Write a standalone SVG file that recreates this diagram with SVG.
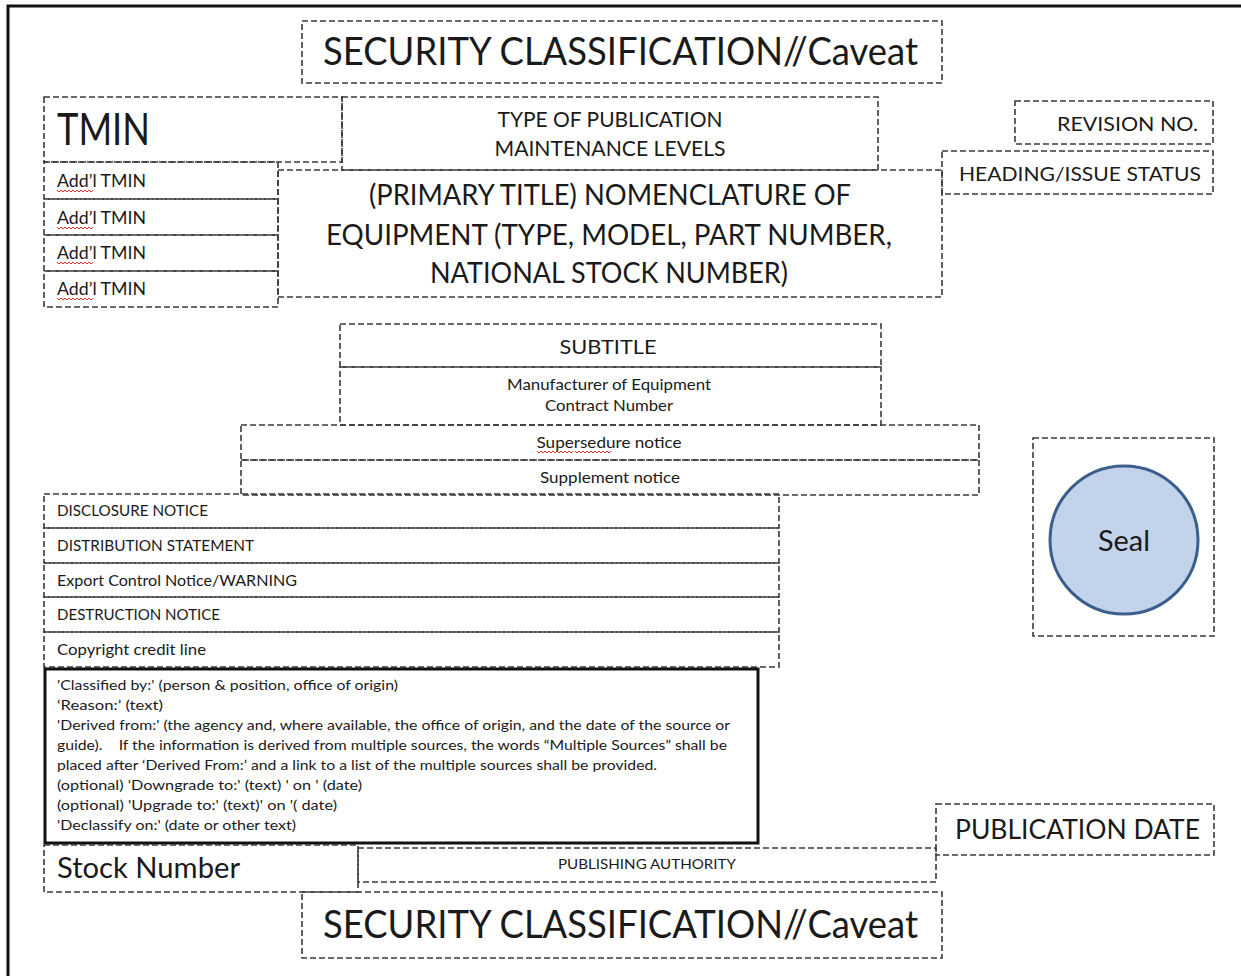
<svg xmlns="http://www.w3.org/2000/svg" width="1241" height="976" viewBox="0 0 1241 976">
<style>
.b{fill:none;stroke:#3a3a3a;stroke-width:1.6;stroke-dasharray:6,3}
.t{font-family:Lato,"Open Sans","Liberation Sans",sans-serif;fill:#1a1a1a}
.c{text-anchor:middle}
.sq{fill:none;stroke:#e03030;stroke-width:1}
</style>
<defs>
<path id="sqA" class="sq" d="M0,0 l2,2 l2,-2 l2,2 l2,-2 l2,2 l2,-2 l2,2 l2,-2 l2,2 l2,-2 l2,2 l2,-2 l2,2 l2,-2 l2,2 l2,-2 l2,2 l2,-2"/>
</defs>
<rect width="1241" height="976" fill="#ffffff"/>
<path d="M8,976 V6 H1241" fill="none" stroke="#111" stroke-width="3"/>

<g id="security-top">
<rect class="b" x="302" y="21" width="640" height="62"/>
<text class="t" x="323" y="65" font-size="38" textLength="595" lengthAdjust="spacingAndGlyphs">SECURITY CLASSIFICATION//Caveat</text>
</g>

<g id="tmin">
<rect class="b" x="44" y="97" width="298" height="65"/>
<text class="t" x="57" y="145" font-size="44" textLength="93" lengthAdjust="spacingAndGlyphs">TMIN</text>
</g>

<g id="type-of-publication">
<rect class="b" x="342" y="97" width="536" height="73"/>
<text class="t c" x="610" y="127" font-size="21" textLength="225" lengthAdjust="spacingAndGlyphs">TYPE OF PUBLICATION</text>
<text class="t c" x="610" y="156" font-size="21" textLength="231" lengthAdjust="spacingAndGlyphs">MAINTENANCE LEVELS</text>
</g>

<g id="addl-tmin-1">
<rect class="b" x="44" y="162" width="234" height="37"/>
<text class="t" x="57" y="187" font-size="17" textLength="89" lengthAdjust="spacingAndGlyphs">Add’l TMIN</text>
<use href="#sqA" x="57" y="190"/>
</g>
<g id="addl-tmin-2">
<rect class="b" x="44" y="199" width="234" height="36"/>
<text class="t" x="57" y="224" font-size="17" textLength="89" lengthAdjust="spacingAndGlyphs">Add’l TMIN</text>
<use href="#sqA" x="57" y="227"/>
</g>
<g id="addl-tmin-3">
<rect class="b" x="44" y="235" width="234" height="36"/>
<text class="t" x="57" y="259" font-size="17" textLength="89" lengthAdjust="spacingAndGlyphs">Add’l TMIN</text>
<use href="#sqA" x="57" y="262"/>
</g>
<g id="addl-tmin-4">
<rect class="b" x="44" y="271" width="234" height="36"/>
<text class="t" x="57" y="295" font-size="17" textLength="89" lengthAdjust="spacingAndGlyphs">Add’l TMIN</text>
<use href="#sqA" x="57" y="298"/>
</g>

<g id="primary-title">
<rect class="b" x="278" y="170" width="664" height="127"/>
<text class="t c" x="610" y="205" font-size="29" textLength="482" lengthAdjust="spacingAndGlyphs">(PRIMARY TITLE) NOMENCLATURE OF</text>
<text class="t c" x="609" y="245" font-size="29" textLength="566" lengthAdjust="spacingAndGlyphs">EQUIPMENT (TYPE, MODEL, PART NUMBER,</text>
<text class="t c" x="609" y="283" font-size="29" textLength="358" lengthAdjust="spacingAndGlyphs">NATIONAL STOCK NUMBER)</text>
</g>

<g id="revision-no">
<rect class="b" x="1015" y="101" width="198" height="43"/>
<text class="t" x="1057" y="131" font-size="20" textLength="141" lengthAdjust="spacingAndGlyphs">REVISION NO.</text>
</g>

<g id="heading-issue-status">
<rect class="b" x="942" y="151" width="271" height="43"/>
<text class="t" x="959" y="181" font-size="20" textLength="242" lengthAdjust="spacingAndGlyphs">HEADING/ISSUE STATUS</text>
</g>

<g id="subtitle">
<rect class="b" x="340" y="324" width="541" height="43"/>
<text class="t c" x="608" y="354" font-size="20" textLength="97" lengthAdjust="spacingAndGlyphs">SUBTITLE</text>
</g>

<g id="manufacturer">
<rect class="b" x="340" y="367" width="541" height="58"/>
<text class="t c" x="609" y="390" font-size="15" textLength="204" lengthAdjust="spacingAndGlyphs">Manufacturer of Equipment</text>
<text class="t c" x="609" y="411" font-size="15" textLength="128" lengthAdjust="spacingAndGlyphs">Contract Number</text>
</g>

<g id="supersedure">
<rect class="b" x="241" y="425" width="738" height="35"/>
<text class="t c" x="609" y="448" font-size="15" textLength="145" lengthAdjust="spacingAndGlyphs">Supersedure notice</text>
<use href="#sqA" x="537" y="451"/>
<use href="#sqA" x="575" y="451"/>
</g>

<g id="supplement">
<rect class="b" x="241" y="460" width="738" height="35"/>
<text class="t c" x="610" y="483" font-size="15" textLength="140" lengthAdjust="spacingAndGlyphs">Supplement notice</text>
</g>

<g id="disclosure-notice">
<rect class="b" x="44" y="494" width="735" height="34"/>
<text class="t" x="57" y="516" font-size="15" textLength="151" lengthAdjust="spacingAndGlyphs">DISCLOSURE NOTICE</text>
</g>
<g id="distribution-statement">
<rect class="b" x="44" y="528" width="735" height="35"/>
<text class="t" x="57" y="551" font-size="15" textLength="197" lengthAdjust="spacingAndGlyphs">DISTRIBUTION STATEMENT</text>
</g>
<g id="export-control">
<rect class="b" x="44" y="563" width="735" height="34"/>
<text class="t" x="57" y="586" font-size="15" textLength="240" lengthAdjust="spacingAndGlyphs">Export Control Notice/WARNING</text>
</g>
<g id="destruction-notice">
<rect class="b" x="44" y="597" width="735" height="35"/>
<text class="t" x="57" y="620" font-size="15" textLength="163" lengthAdjust="spacingAndGlyphs">DESTRUCTION NOTICE</text>
</g>
<g id="copyright">
<rect class="b" x="44" y="632" width="735" height="35"/>
<text class="t" x="57" y="655" font-size="15" textLength="149" lengthAdjust="spacingAndGlyphs">Copyright credit line</text>
</g>

<g id="classification-block">
<rect x="45" y="669" width="713" height="174" fill="#fff" stroke="#111" stroke-width="3"/>
<g class="t" font-size="14">
<text x="57" y="690" textLength="341" lengthAdjust="spacingAndGlyphs">'Classified by:' (person &amp; position, office of origin)</text>
<text x="57" y="710" textLength="106" lengthAdjust="spacingAndGlyphs">‘Reason:’ (text)</text>
<text x="57" y="730" textLength="673" lengthAdjust="spacingAndGlyphs">'Derived from:' (the agency and, where available, the office of origin, and the date of the source or</text>
<text x="57" y="750" textLength="670" lengthAdjust="spacingAndGlyphs" xml:space="preserve">guide).    If the information is derived from multiple sources, the words “Multiple Sources” shall be</text>
<text x="57" y="770" textLength="600" lengthAdjust="spacingAndGlyphs">placed after ‘Derived From:’ and a link to a list of the multiple sources shall be provided.</text>
<text x="57" y="790" textLength="305" lengthAdjust="spacingAndGlyphs">(optional) 'Downgrade to:' (text) ' on ' (date)</text>
<text x="57" y="810" textLength="280" lengthAdjust="spacingAndGlyphs">(optional) 'Upgrade to:' (text)' on '( date)</text>
<text x="57" y="830" textLength="239" lengthAdjust="spacingAndGlyphs">'Declassify on:' (date or other text)</text>
</g>
</g>

<g id="seal">
<rect class="b" x="1033" y="438" width="181" height="198"/>
<circle cx="1124" cy="540" r="74" fill="#c3d3ea" stroke="#3b5f8c" stroke-width="3"/>
<text class="t c" x="1124" y="551" font-size="28" fill="#1f2a3a" textLength="52" lengthAdjust="spacingAndGlyphs">Seal</text>
</g>

<g id="publication-date">
<rect class="b" x="936" y="804" width="278" height="51"/>
<text class="t" x="955" y="839" font-size="27" textLength="245" lengthAdjust="spacingAndGlyphs">PUBLICATION DATE</text>
</g>

<g id="stock-number">
<rect class="b" x="44" y="845" width="314" height="47"/>
<text class="t" x="57" y="878" font-size="29" textLength="183" lengthAdjust="spacingAndGlyphs">Stock Number</text>
</g>

<g id="publishing-authority">
<rect class="b" x="358" y="848" width="578" height="34"/>
<text class="t c" x="647" y="869" font-size="13" textLength="178" lengthAdjust="spacingAndGlyphs">PUBLISHING AUTHORITY</text>
</g>

<g id="security-bottom">
<rect class="b" x="302" y="892" width="640" height="66"/>
<text class="t" x="323" y="938" font-size="38" textLength="595" lengthAdjust="spacingAndGlyphs">SECURITY CLASSIFICATION//Caveat</text>
</g>

<g id="connectors"></g>
</svg>
